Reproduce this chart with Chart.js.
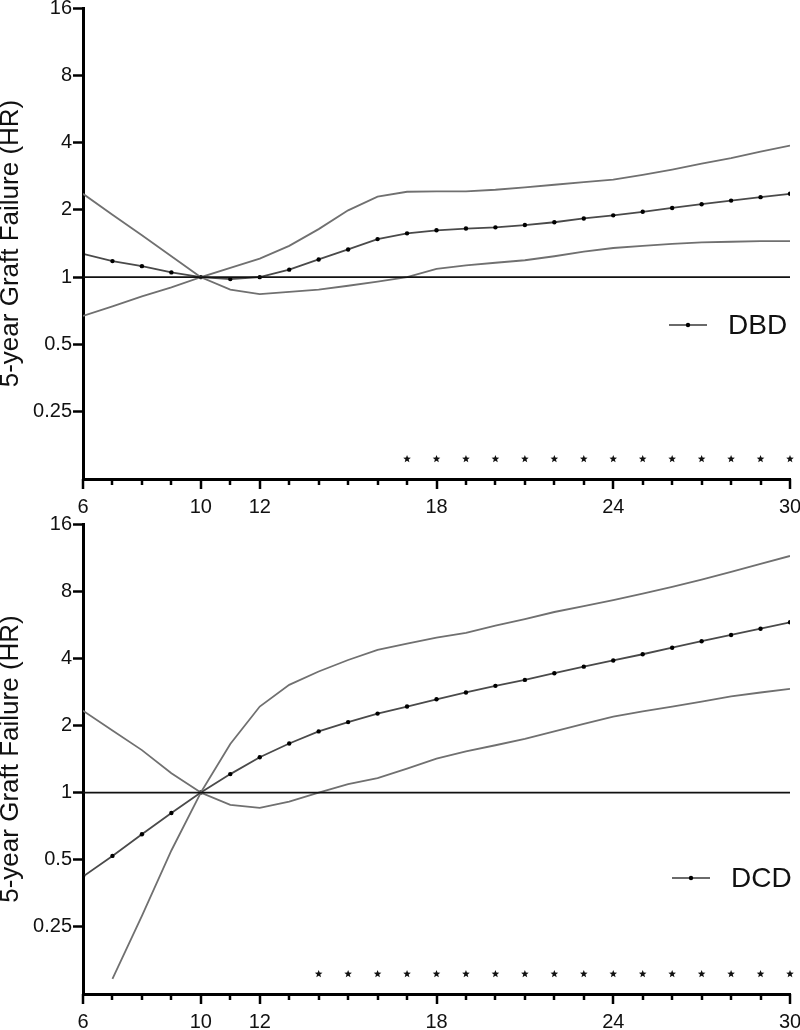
<!DOCTYPE html>
<html>
<head>
<meta charset="utf-8">
<script src="https://cdn.jsdelivr.net/npm/chart.js@4.4.1/dist/chart.umd.min.js"></script>
<style>
  html, body { margin: 0; padding: 0; background: #fff; }
  canvas { display: block; }
</style>
</head>
<body>
<canvas id="dbdChart" width="800" height="515"></canvas>
<canvas id="dcdChart" width="800" height="515"></canvas>
<script>
// ---- data ----
const ages = [6, 7, 8, 9, 10, 11, 12, 13, 14, 15, 16, 17, 18, 19, 20, 21, 22, 23, 24, 25, 26, 27, 28, 29, 30];
const xTickLabels = [6, 10, 12, 18, 24, 30];
const yTickValues = [0.25, 0.5, 1, 2, 4, 8, 16];

const dbdHR    = [1.27, 1.18, 1.12, 1.05, 1.0, 0.98, 1.0, 1.08, 1.2, 1.33, 1.48, 1.57, 1.62, 1.65, 1.67, 1.71, 1.76, 1.83, 1.89, 1.96, 2.04, 2.12, 2.2, 2.28, 2.36];
const dbdUpper = [2.36, 1.9, 1.54, 1.24, 1.0, 1.1, 1.21, 1.38, 1.64, 1.99, 2.29, 2.41, 2.42, 2.42, 2.46, 2.52, 2.59, 2.66, 2.73, 2.87, 3.03, 3.22, 3.41, 3.64, 3.88];
const dbdLower = [0.67, 0.74, 0.82, 0.9, 1.0, 0.88, 0.84, 0.86, 0.88, 0.915, 0.955, 1.0, 1.09, 1.13, 1.16, 1.19, 1.24, 1.3, 1.35, 1.38, 1.41, 1.43, 1.44, 1.45, 1.45];
const dbdSignificant = [17, 18, 19, 20, 21, 22, 23, 24, 25, 26, 27, 28, 29, 30];

const dcdHR    = [0.42, 0.52, 0.65, 0.81, 1.0, 1.21, 1.44, 1.66, 1.88, 2.07, 2.26, 2.43, 2.62, 2.81, 3.01, 3.2, 3.43, 3.67, 3.91, 4.17, 4.46, 4.77, 5.09, 5.43, 5.8];
const dcdUpper = [2.33, 1.9, 1.55, 1.22, 1.0, 1.65, 2.43, 3.04, 3.49, 3.93, 4.36, 4.65, 4.95, 5.2, 5.6, 6.0, 6.45, 6.85, 7.3, 7.8, 8.35, 9.0, 9.75, 10.6, 11.5];
const dcdLower = [null, 0.146, 0.28, 0.55, 1.0, 0.88, 0.854, 0.91, 1.0, 1.09, 1.16, 1.28, 1.42, 1.53, 1.63, 1.74, 1.88, 2.03, 2.19, 2.31, 2.43, 2.56, 2.7, 2.81, 2.92];
const dcdSignificant = [14, 15, 16, 17, 18, 19, 20, 21, 22, 23, 24, 25, 26, 27, 28, 29, 30];

const referenceHR = 1;

const FONT = "'Liberation Sans', Arial, sans-serif";

function toPoints(ys) {
  return ages.map((a, i) => ({ x: a, y: ys[i] }));
}

function drawStar(ctx, cx, cy, outer, inner) {
  ctx.beginPath();
  for (let i = 0; i < 10; i++) {
    const r = i % 2 ? inner : outer;
    const ang = -Math.PI / 2 + i * Math.PI / 5;
    const px = cx + r * Math.cos(ang), py = cy + r * Math.sin(ang);
    if (i === 0) ctx.moveTo(px, py); else ctx.lineTo(px, py);
  }
  ctx.closePath();
  ctx.fill();
}

// x tick marks (long for labelled ages), significance stars, legend
const panelDecor = {
  id: 'panelDecor',
  afterDraw(chart, args, opts) {
    const { ctx, chartArea } = chart;
    const xs = chart.scales.x;
    ctx.save();
    ctx.strokeStyle = '#000';
    ctx.lineWidth = 2.5;
    ages.forEach(a => {
      const px = Math.round(xs.getPixelForValue(a));
      const len = xTickLabels.includes(a) ? 10 : 6;
      ctx.beginPath();
      ctx.moveTo(px, chartArea.bottom);
      ctx.lineTo(px, chartArea.bottom + len);
      ctx.stroke();
    });

    ctx.fillStyle = '#111';
    opts.significant.forEach(a => drawStar(ctx, xs.getPixelForValue(a), chartArea.bottom - 20, 4, 1.7));

    const ds = chart.data.datasets.find(d => d.label === opts.label);
    const lg = opts.legend;
    ctx.strokeStyle = '#6a6a6a';
    ctx.lineWidth = ds.borderWidth;
    ctx.beginPath();
    ctx.moveTo(lg.x, lg.y);
    ctx.lineTo(lg.x + 38, lg.y);
    ctx.stroke();
    ctx.fillStyle = '#000';
    ctx.beginPath();
    ctx.arc(lg.x + 19, lg.y, 2.2, 0, Math.PI * 2);
    ctx.fill();
    ctx.fillStyle = '#111';
    ctx.font = `28px ${FONT}`;
    ctx.textBaseline = 'middle';
    ctx.textAlign = 'left';
    ctx.fillText(opts.label, lg.x + 59, lg.y + 1);
    ctx.restore();
  }
};

function makePanel(canvasId, label, hr, upper, lower, significant, legendPos, padTop) {
  return new Chart(document.getElementById(canvasId), {
    type: 'line',
    data: {
      datasets: [
        {
          label: 'ref',
          data: [{ x: ages[0], y: referenceHR }, { x: ages[ages.length - 1], y: referenceHR }],
          borderColor: '#111', borderWidth: 1.8, pointRadius: 0
        },
        {
          label: 'upper',
          data: toPoints(upper),
          borderColor: '#707070', borderWidth: 1.8, pointRadius: 0
        },
        {
          label: 'lower',
          data: toPoints(lower),
          borderColor: '#707070', borderWidth: 1.8, pointRadius: 0
        },
        {
          label: label,
          data: toPoints(hr),
          borderColor: '#4a4a4a', borderWidth: 1.8,
          pointRadius: 2.2, pointBackgroundColor: '#000', pointBorderWidth: 0
        }
      ]
    },
    options: {
      responsive: false,
      animation: false,
      devicePixelRatio: 1,
      layout: { padding: { top: padTop, right: 10, left: 0, bottom: 0 } },
      plugins: {
        legend: { display: false },
        tooltip: { enabled: false },
        panelDecor: { label: label, significant: significant, legend: legendPos }
      },
      scales: {
        x: {
          type: 'linear', min: 6, max: 30,
          afterBuildTicks: s => { s.ticks = xTickLabels.map(v => ({ value: v })); },
          afterFit: s => { s.height = 36; s.paddingLeft = 0; s.paddingRight = 0; },
          grid: { display: false, drawTicks: false },
          border: { display: true, width: 3, color: '#000' },
          ticks: { padding: 16, color: '#111', autoSkip: false, maxRotation: 0, font: { family: FONT, size: 20 } }
        },
        y: {
          type: 'logarithmic', min: 0.125, max: 16,
          afterBuildTicks: s => { s.ticks = yTickValues.map(v => ({ value: v })); },
          afterFit: s => { s.width = 83; s.paddingTop = 0; s.paddingBottom = 0; },
          grid: { drawOnChartArea: false, drawTicks: true, tickLength: 10, tickWidth: 2.5, tickColor: '#000' },
          border: { display: true, width: 3, color: '#000' },
          ticks: { padding: 1, color: '#111', font: { family: FONT, size: 20 }, callback: v => String(v) },
          title: {
            display: true, text: '5-year Graft Failure (HR)', color: '#111',
            font: { family: FONT, size: 26, lineHeight: 0.85 }, padding: 0
          }
        }
      }
    },
    plugins: [panelDecor]
  });
}

makePanel('dbdChart', 'DBD', dbdHR, dbdUpper, dbdLower, dbdSignificant, { x: 669, y: 325 }, 8);
makePanel('dcdChart', 'DCD', dcdHR, dcdUpper, dcdLower, dcdSignificant, { x: 672, y: 363 }, 9);
</script>
</body>
</html>
